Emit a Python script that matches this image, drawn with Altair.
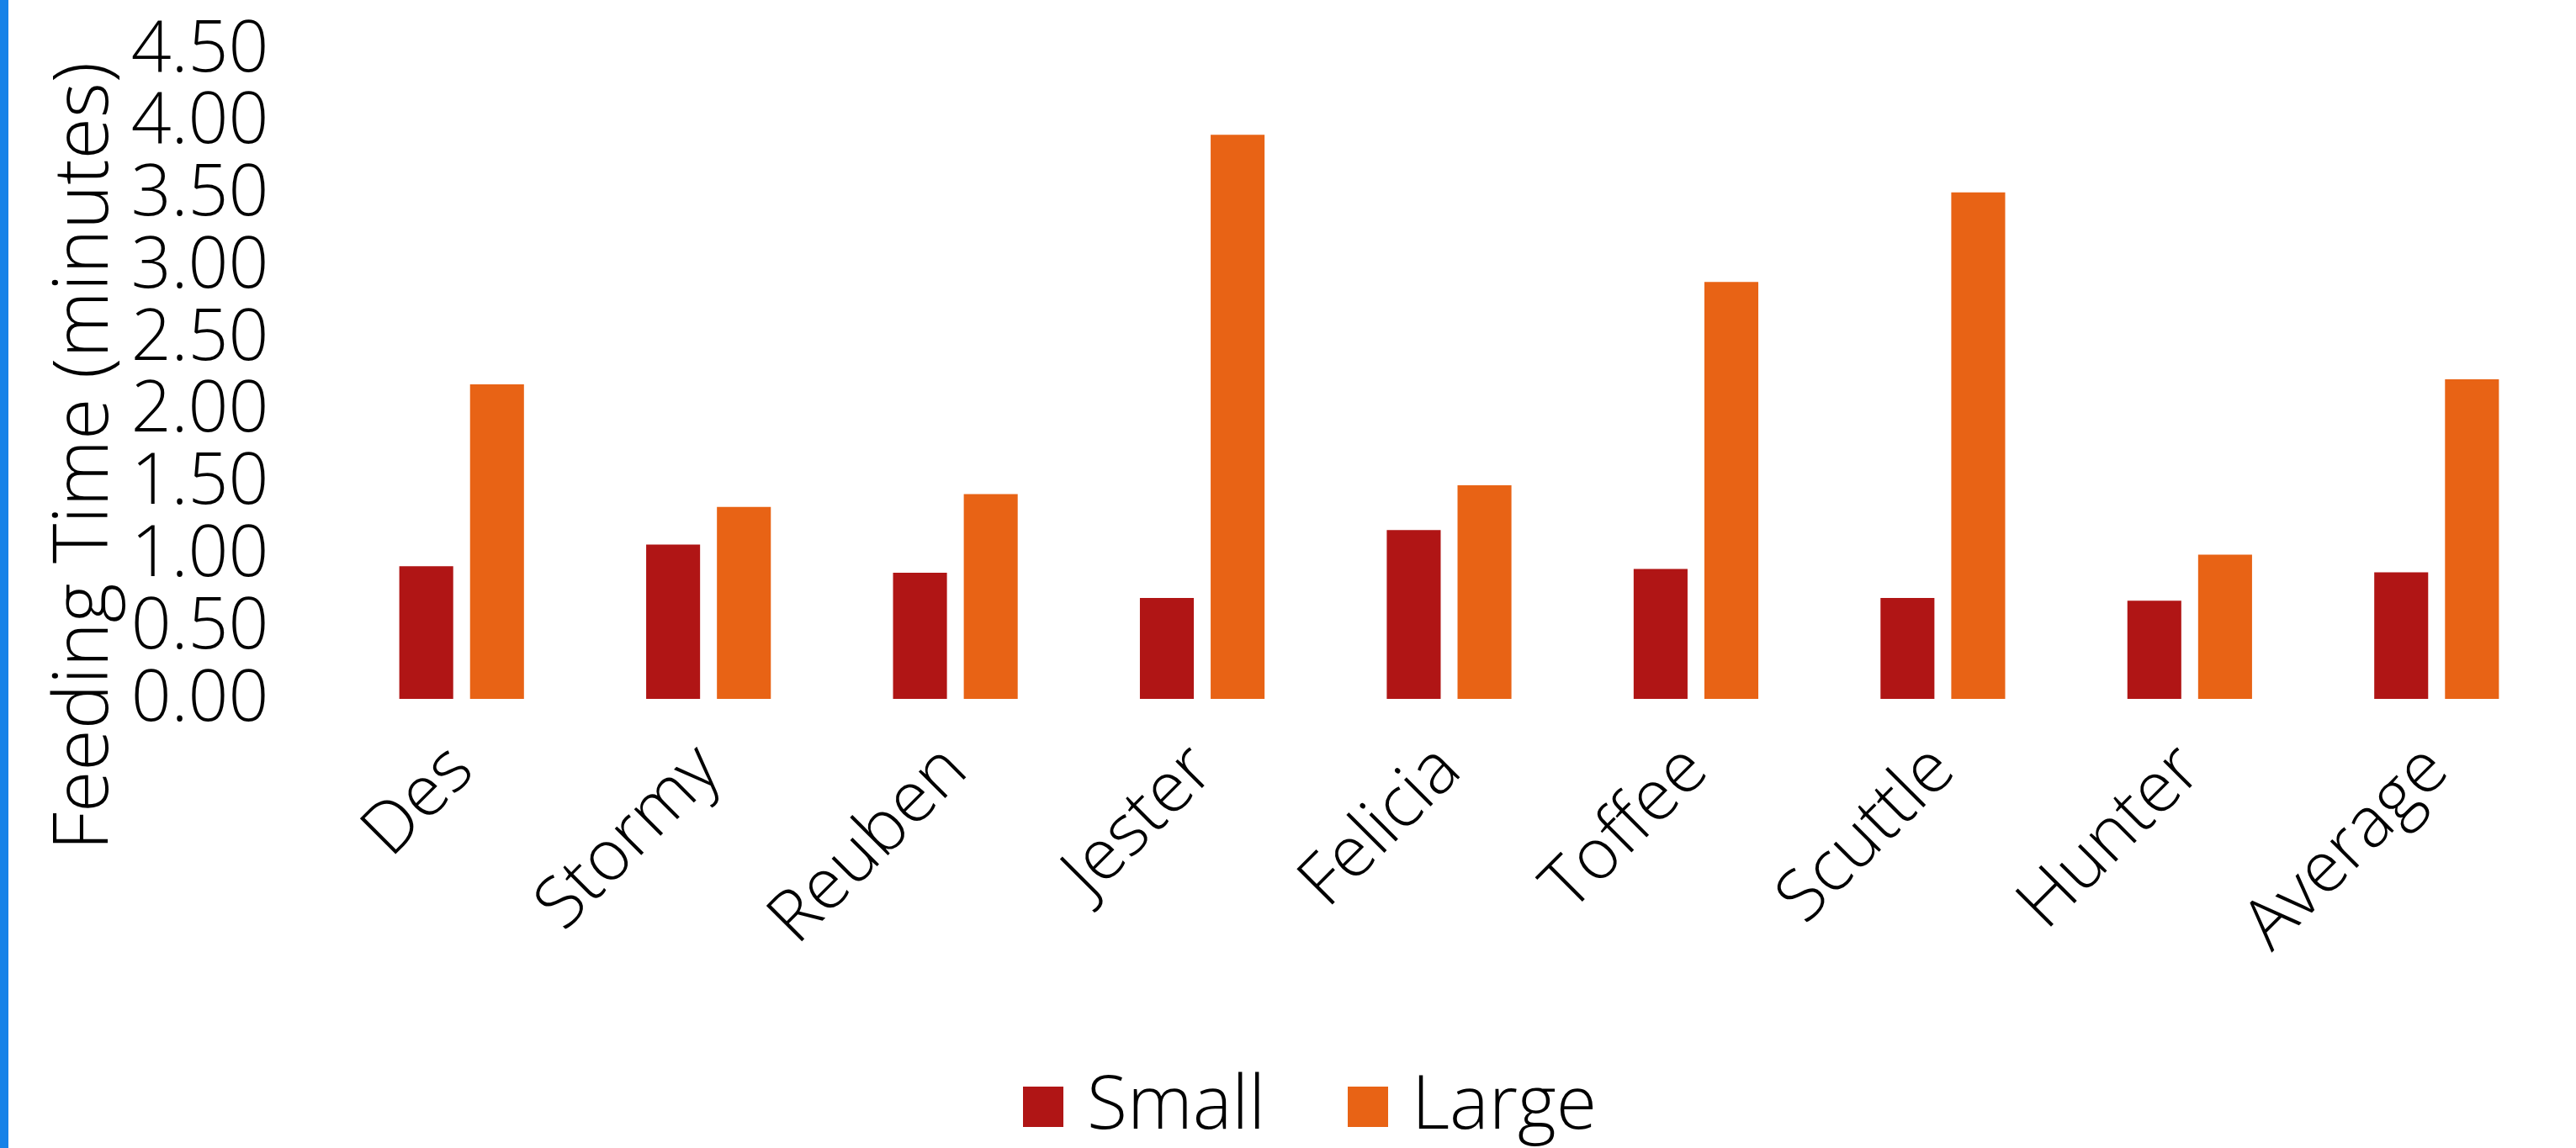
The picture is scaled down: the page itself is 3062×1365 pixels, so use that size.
import altair as alt
import pandas as pd

names = ["Des", "Stormy", "Reuben", "Jester", "Felicia", "Toffee", "Scuttle", "Hunter", "Average"]
small = [0.92, 1.07, 0.875, 0.70, 1.17, 0.90, 0.70, 0.68, 0.877]
large = [2.18, 1.33, 1.42, 3.91, 1.48, 2.89, 3.51, 1.00, 2.215]
series = ["Small", "Large"]
colors = ["#B01515", "#E86315"]
y_ticks = [0, 0.5, 1.0, 1.5, 2.0, 2.5, 3.0, 3.5, 4.0, 4.5]

rows = []
for n, s, l in zip(names, small, large):
    rows.append({"name": n, "size": "Small", "value": s})
    rows.append({"name": n, "size": "Large", "value": l})
df = pd.DataFrame(rows)

FONT = "Open Sans"
FW = 300
FS = 84
W, H = 2641, 772
PL, PT = 402, 59

bars = alt.Chart(df).mark_bar().encode(
    x=alt.X("name:N", sort=names,
            scale=alt.Scale(paddingInner=0.495, paddingOuter=0.2475),
            axis=alt.Axis(title=None, labelAngle=-45, labelAlign="right", labelBaseline="middle",
                          labelPadding=70, domain=False, ticks=False, tickSize=0, labelLimit=0,
                          labelFont=FONT, labelFontSize=FS, labelFontWeight=FW,
                          labelColor="#000000")),
    xOffset=alt.XOffset("size:N", sort=series, scale=alt.Scale(paddingInner=0.238, paddingOuter=0)),
    y=alt.Y("value:Q", scale=alt.Scale(domain=[0, 4.5], nice=False),
            axis=alt.Axis(title="Feeding Time (minutes)", values=y_ticks, format=".2f",
                          grid=False, domain=False, ticks=False, tickSize=0, labelPadding=83,
                          labelFont=FONT, labelFontSize=FS, labelFontWeight=FW, labelColor="#000000",
                          titleFont=FONT, titleFontSize=90, titleFontWeight=FW, titleColor="#000000",
                          titleAngle=-90, titleAlign="center", titleBaseline="middle",
                          titleX=-302, titleY=483, titleLimit=0)),
    color=alt.Color("size:N", sort=series,
                    scale=alt.Scale(domain=series, range=colors),
                    legend=alt.Legend(title=None, orient="none", direction="horizontal",
                                      legendX=794, legendY=1213,
                                      symbolType="square", symbolSize=2304, symbolStrokeWidth=0,
                                      symbolOpacity=1, labelLimit=0,
                                      labelFont=FONT, labelFontSize=88, labelFontWeight=FW,
                                      labelColor="#000000", labelOffset=8, columnPadding=77,
                                      padding=0)),
)

edge = alt.Chart(pd.DataFrame({"a": [0]})).mark_rect(color="#1582E8").encode(
    x=alt.value(-PL), x2=alt.value(-PL + 10), y=alt.value(-PT), y2=alt.value(1365 - PT)
)

chart = alt.layer(edge, bars).properties(
    width=W, height=H,
    autosize=alt.AutoSizeParams(type="none"),
    padding={"left": PL, "top": PT, "right": 3062 - PL - W, "bottom": 1365 - PT - H},
    background="#FFFFFF",
).configure_view(stroke=None)

chart.save("out.html", embed_options={"renderer": "svg", "actions": False})
